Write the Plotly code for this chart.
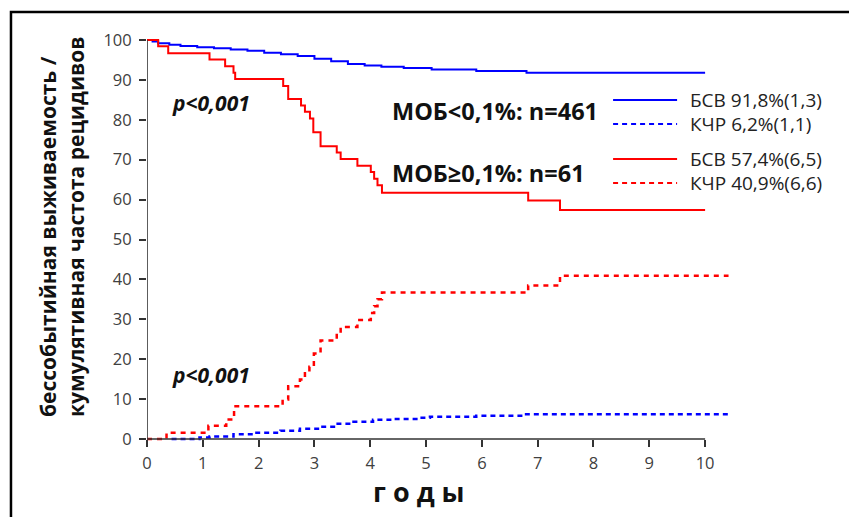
import plotly.graph_objects as go

# ---- data ----
efs_low_t = [0, 0.1, 0.2, 0.4, 0.6, 0.9, 1.2, 1.5, 1.8, 2.1, 2.4, 2.7, 3.0, 3.3, 3.6, 3.9, 4.2, 4.6, 5.1, 5.9, 6.8, 10.0]
efs_low_v = [100, 99.6, 99.2, 98.8, 98.5, 98.2, 97.9, 97.6, 97.3, 96.8, 96.4, 96.0, 95.3, 94.7, 94.0, 93.6, 93.3, 93.0, 92.6, 92.2, 91.8, 91.8]

cir_low_t = [0.44, 0.94, 1.12, 1.55, 1.91, 2.39, 2.74, 3.1, 3.35, 3.7, 4.05, 4.42, 4.89, 5.07, 5.9, 6.74, 10.42]
cir_low_v = [0.0, 0.4, 0.6, 1.2, 1.6, 2.1, 2.6, 3.1, 3.8, 4.3, 4.8, 5.0, 5.3, 5.6, 5.8, 6.2, 6.2]

efs_high_t = [0, 0.2, 0.38, 1.12, 1.40, 1.55, 1.58, 2.44, 2.53, 2.76, 2.83, 2.92, 2.98, 3.11, 3.40, 3.47, 3.77, 4.01, 4.07, 4.13, 4.21, 6.83, 7.40, 10.0]
efs_high_v = [100, 98.4, 96.7, 95.1, 93.4, 91.8, 90.2, 88.5, 85.2, 83.6, 82.0, 80.3, 76.9, 73.4, 71.8, 70.2, 68.5, 66.9, 65.2, 63.6, 61.7, 59.8, 57.4, 57.4]

cir_high_t = [0, 0.35, 1.10, 1.42, 1.56, 2.43, 2.53, 2.74, 2.83, 2.91, 2.99, 3.11, 3.40, 3.47, 3.77, 4.01, 4.07, 4.13, 4.21, 6.83, 7.40, 10.42]
cir_high_v = [0, 1.6, 3.3, 4.9, 8.2, 9.9, 13.2, 14.9, 16.5, 18.1, 21.4, 24.7, 26.4, 28.1, 29.8, 31.6, 33.3, 35.0, 36.7, 38.5, 40.9, 40.9]

x_ticks = list(range(0, 11))
y_ticks = list(range(0, 101, 10))

legend_labels = ["БСВ 91,8%(1,3)", "КЧР 6,2%(1,1)", "БСВ 57,4%(6,5)", "КЧР 40,9%(6,6)"]
group_labels = ["МОБ<0,1%: n=461", "МОБ≥0,1%: n=61"]
p_label = "p<0,001"

BLUE = "#0000FF"
RED = "#FF0000"

# ---- layout geometry ----
W, H = 849, 517
ML, MT = 147, 36
XR = [0, 10.5]
YR = [-1, 101]
PXU_X = 55.8
PXU_Y = 3.99
PW = (XR[1] - XR[0]) * PXU_X
PH = (YR[1] - YR[0]) * PXU_Y
MR = W - ML - PW
MB = H - MT - PH


def px(xp):
    return (xp - ML) / PW


def py(yp):
    return 1 - (yp - MT) / PH


fig = go.Figure()

fig.add_trace(go.Scatter(x=efs_low_t, y=efs_low_v, mode="lines", line=dict(color=BLUE, width=2, shape="hv"), showlegend=False))
fig.add_trace(go.Scatter(x=cir_low_t, y=cir_low_v, mode="lines", line=dict(color=BLUE, width=2.5, shape="hv", dash="5px,4px"), showlegend=False))
fig.add_trace(go.Scatter(x=efs_high_t, y=efs_high_v, mode="lines", line=dict(color=RED, width=2, shape="hv"), showlegend=False))
fig.add_trace(go.Scatter(x=cir_high_t, y=cir_high_v, mode="lines", line=dict(color=RED, width=2.5, shape="hv", dash="5px,5px"), showlegend=False))

AX = "#333333"
shapes = [
    dict(type="line", xref="x", yref="y", x0=0, x1=10, y0=0, y1=0, line=dict(color=AX, width=1.6)),
    dict(type="line", xref="x", yref="y", x0=0, x1=0, y0=0, y1=100, line=dict(color=AX, width=1.6)),
    # outer frame (partially outside the canvas)
    dict(type="rect", xref="paper", yref="paper", x0=px(11), x1=px(W + 20), y0=py(12), y1=py(H + 20),
         line=dict(color="black", width=2.5), fillcolor="rgba(0,0,0,0)", layer="above"),
]

# legend samples
leg_y = [100, 124, 159, 183]
leg_col = [BLUE, BLUE, RED, RED]
leg_dash = ["solid", "5px,4px", "solid", "5px,4px"]
for yy, c, d in zip(leg_y, leg_col, leg_dash):
    shapes.append(dict(type="line", xref="paper", yref="paper", x0=px(613), x1=px(677), y0=py(yy), y1=py(yy),
                       line=dict(color=c, width=2.2, dash=d)))

FONT = "Open Sans"
ann = []
for yy, t in zip(leg_y, legend_labels):
    ann.append(dict(xref="paper", yref="paper", x=px(688), y=py(yy), text=t, showarrow=False, xanchor="left",
                    yanchor="middle", font=dict(family=FONT, size=19, color="#222")))
for yy, t in zip([111, 173], group_labels):
    ann.append(dict(xref="paper", yref="paper", x=px(390), y=py(yy), text="<b>" + t + "</b>", showarrow=False,
                    xanchor="left", yanchor="middle", font=dict(family=FONT, size=23.5, color="#111")))
for yy in [103, 375]:
    ann.append(dict(xref="paper", yref="paper", x=px(170), y=py(yy), text="<b><i>" + p_label + "</i></b>",
                    showarrow=False, xanchor="left", yanchor="middle", font=dict(family=FONT, size=21, color="#111")))
ann.append(dict(xref="paper", yref="paper", x=px(48), y=py(236), text="<b>бессобытийная выживаемость /</b>",
                showarrow=False, textangle=-90, xanchor="center", yanchor="middle",
                font=dict(family=FONT, size=21, color="#111")))
ann.append(dict(xref="paper", yref="paper", x=px(76), y=py(227), text="<b>кумулятивная частота рецидивов</b>",
                showarrow=False, textangle=-90, xanchor="center", yanchor="middle",
                font=dict(family=FONT, size=21, color="#111")))
ann.append(dict(xref="paper", yref="paper", x=px(419), y=py(491), text="<b>г о д ы</b>", showarrow=False,
                xanchor="center", yanchor="middle", font=dict(family=FONT, size=27, color="#111")))

fig.update_layout(
    width=W, height=H,
    margin=dict(l=ML, r=MR, t=MT, b=MB, pad=0),
    paper_bgcolor="white", plot_bgcolor="white",
    shapes=shapes, annotations=ann,
    xaxis=dict(range=XR, tickvals=x_ticks, ticktext=[str(v) for v in x_ticks], showgrid=False, zeroline=False,
               showline=False, ticks="outside", ticklen=7, tickwidth=1.6, tickcolor=AX,
               anchor="free", position=(0 - YR[0]) / (YR[1] - YR[0]), ticklabelstandoff=2,
               tickfont=dict(family=FONT, size=16.5, color="#404040")),
    yaxis=dict(range=YR, tickvals=y_ticks, ticktext=[str(v) for v in y_ticks], showgrid=False, zeroline=False,
               showline=False, ticks="outside", ticklen=7, tickwidth=1.6, tickcolor=AX, ticklabelstandoff=4,
               tickfont=dict(family=FONT, size=16.5, color="#404040")),
)

fig.write_html("out.html")
